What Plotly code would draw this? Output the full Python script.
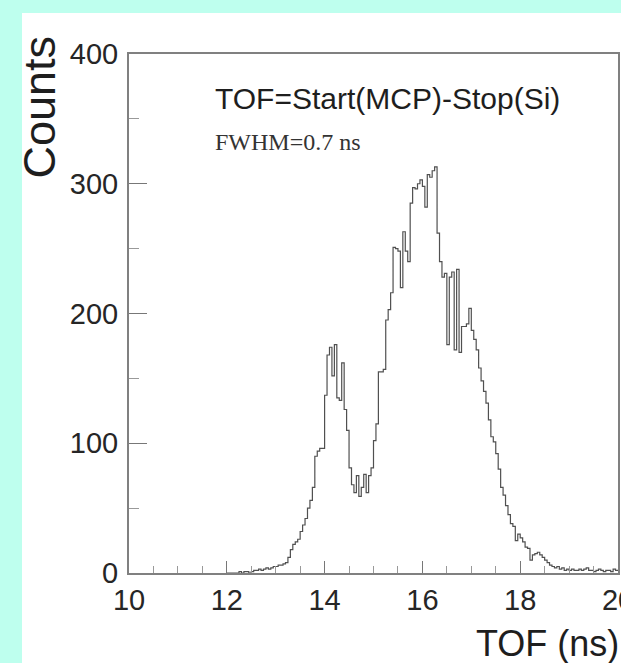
import plotly.graph_objects as go

# ---- data ----
bin_start = 12.0
bin_width = 0.05
counts = [
    0, 0, 0, 0, 0, 1, 0, 1, 1, 0, 1, 2, 2, 3, 2, 3, 4, 3, 4, 5,
    5, 6, 6, 7, 8, 12, 18, 22, 24, 26, 32, 37, 42, 50, 56, 66, 90, 94, 96, 96,
    137, 168, 174, 152, 176, 135, 133, 162, 126, 110, 81, 68, 62, 75, 59, 66, 76, 62, 75, 81,
    102, 115, 155, 155, 157, 195, 203, 216, 251, 250, 248, 220, 263, 248, 240, 285, 297, 296, 300, 303,
    298, 282, 307, 305, 310, 313, 262, 240, 228, 231, 176, 228, 232, 172, 234, 170, 190, 190, 192, 204,
    187, 180, 172, 158, 148, 140, 131, 118, 105, 101, 92, 80, 66, 60, 52, 45, 38, 36, 25, 30,
    27, 24, 20, 19, 10, 14, 15, 16, 14, 12, 10, 8, 6, 5, 4, 5, 3, 4, 2, 3,
    2, 3, 2, 2, 3, 2, 3, 4, 2, 2, 1, 2, 3, 2, 1, 2, 2, 1, 3, 2,
]
x_ticks = [10, 12, 14, 16, 18, 20]
y_ticks = [0, 100, 200, 300, 400]
title_text = "TOF=Start(MCP)-Stop(Si)"
fwhm_text = "FWHM=0.7 ns"
x_title = "TOF (ns)"
y_title = "Counts"

edges = [round(bin_start + i * bin_width, 4) for i in range(len(counts) + 1)]
step_y = counts + [counts[-1]]

W, H = 621, 663
L, R, T, B = 129, 3, 54, 90
pw, ph = W - L - R, H - T - B

def px_to_paper_x(px):
    return (px - L) / pw

def px_to_paper_y(py):
    return (H - B - py) / ph

fig = go.Figure()
fig.add_trace(go.Scatter(
    x=edges, y=step_y, mode="lines", line_shape="hv",
    line=dict(color="#505050", width=1.2), showlegend=False, hoverinfo="skip"))

fig.add_shape(type="rect", xref="paper", yref="paper",
              x0=px_to_paper_x(22), x1=px_to_paper_x(640),
              y0=px_to_paper_y(700), y1=px_to_paper_y(13),
              fillcolor="white", line=dict(width=0), layer="below")

axis_font = dict(family="Liberation Sans, Arial, sans-serif", size=29, color="#262626")

fig.update_layout(
    width=W, height=H,
    margin=dict(l=L, r=R, t=T, b=B, autoexpand=False),
    paper_bgcolor="rgb(190,255,238)",
    plot_bgcolor="white",
    xaxis=dict(range=[10, 20], tickvals=x_ticks, ticktext=[str(v) for v in x_ticks],
               ticks="inside", ticklen=12, tickwidth=1, tickcolor="#777",
               minor=dict(dtick=0.5, tick0=10, ticks="inside", ticklen=7, tickcolor="#999"),
               showline=True, linecolor="#808080", linewidth=2, mirror=True,
               showgrid=False, zeroline=False, tickfont=axis_font, ticklabelstandoff=0,
               ticklabeloverflow="allow"),
    yaxis=dict(range=[0, 400], tickvals=y_ticks, ticktext=[str(v) for v in y_ticks],
               ticks="inside", ticklen=18, tickwidth=1, tickcolor="#777",
               minor=dict(dtick=50, tick0=0, ticks="inside", ticklen=10, tickcolor="#999"),
               showline=True, linecolor="#808080", linewidth=2, mirror=True,
               showgrid=False, zeroline=False, tickfont=axis_font, ticklabelstandoff=3,
               ticklabeloverflow="allow"),
    annotations=[
        dict(text=title_text, x=px_to_paper_x(213), y=px_to_paper_y(98), xref="paper", yref="paper",
             xanchor="left", yanchor="middle", showarrow=False,
             font=dict(family="Liberation Sans, Arial, sans-serif", size=30, color="#1e1e1e")),
        dict(text=fwhm_text, x=px_to_paper_x(213), y=px_to_paper_y(142), xref="paper", yref="paper",
             xanchor="left", yanchor="middle", showarrow=False,
             font=dict(family="Liberation Serif, Times New Roman, serif", size=24, color="#333")),
        dict(text=x_title, x=px_to_paper_x(621), y=px_to_paper_y(643), xref="paper", yref="paper",
             xanchor="right", yanchor="middle", showarrow=False,
             font=dict(family="Liberation Sans, Arial, sans-serif", size=36, color="#1e1e1e")),
        dict(text=y_title, x=px_to_paper_x(39), y=px_to_paper_y(34), xref="paper", yref="paper",
             xanchor="center", yanchor="top", textangle=-90, showarrow=False,
             font=dict(family="Liberation Sans, Arial, sans-serif", size=45, color="#1e1e1e")),
    ],
)

fig.write_html(
    "out.html",
    config={"displayModeBar": False},
    post_script="document.body.style.margin='0';document.body.style.overflow='hidden';"
                "document.documentElement.style.overflow='hidden';",
)
